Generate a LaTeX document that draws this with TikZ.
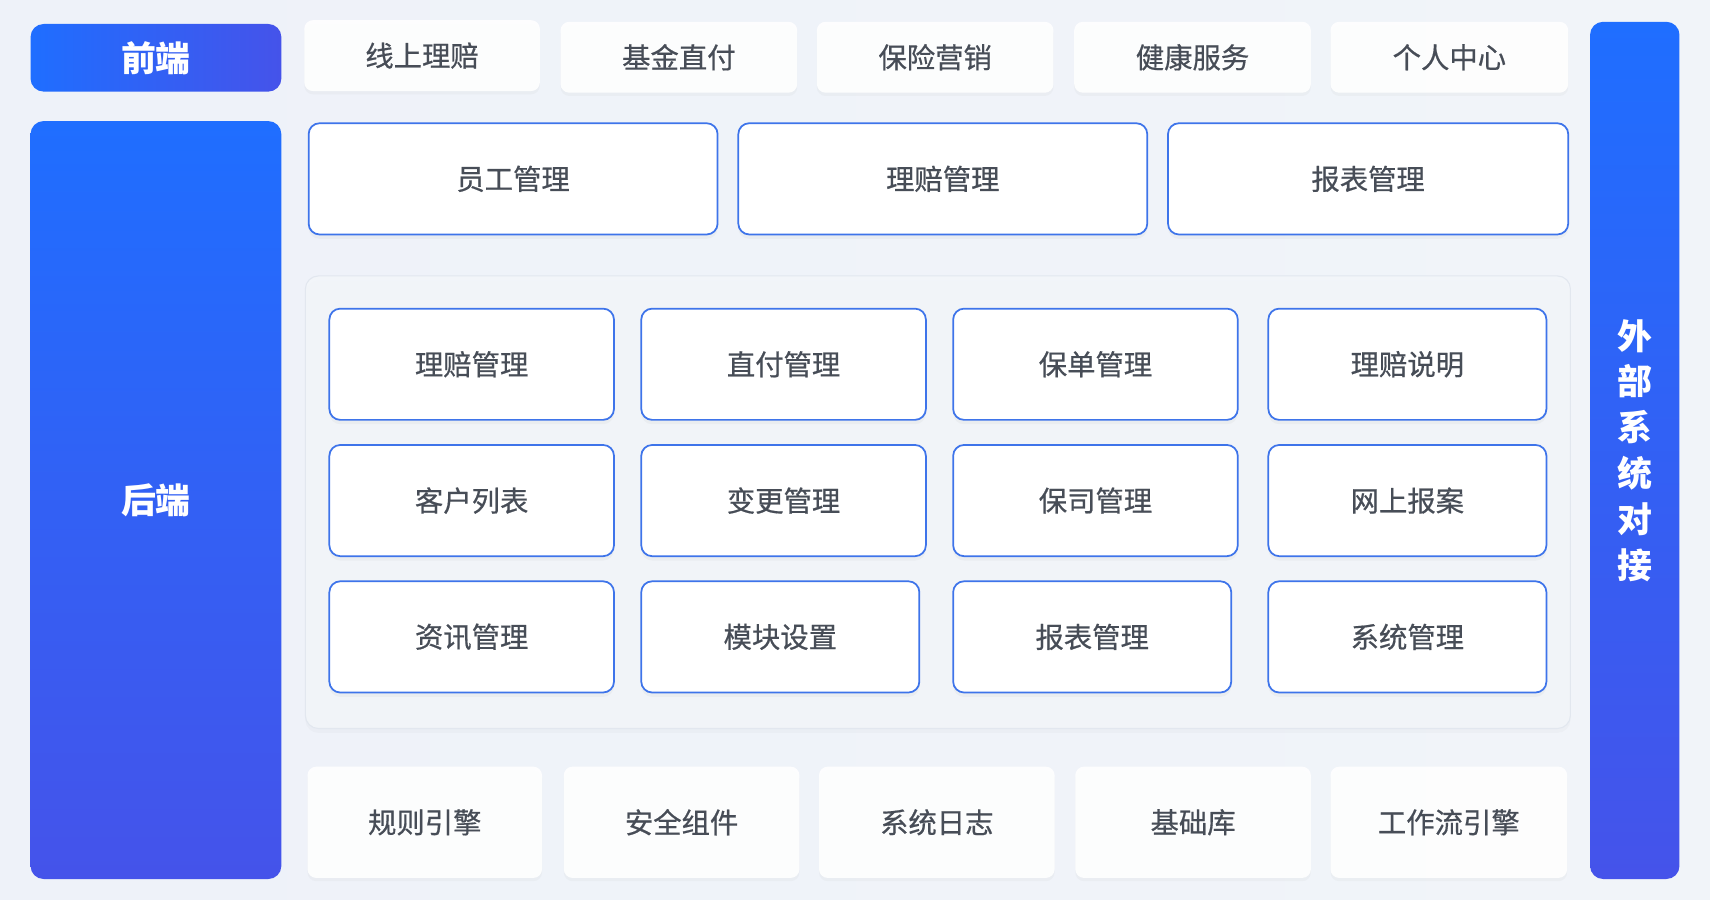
\documentclass[tikz,border=0pt]{standalone}
\usepackage{fontspec}
\setmainfont{Noto Sans CJK SC}
\newfontfamily\medfont{Noto Sans CJK SC}[FakeBold=0.6]
\usetikzlibrary{shadows}
\definecolor{bgL}{HTML}{EEF2F9}
\definecolor{bgR}{HTML}{F1F4F9}
\definecolor{blueA}{HTML}{1F6EFF}
\definecolor{blueB}{HTML}{4553EA}
\definecolor{edgeblue}{HTML}{3E74EA}
\definecolor{txt}{HTML}{474D57}
\definecolor{panelline}{HTML}{E2E7EF}
\definecolor{panelfill}{HTML}{F3F6FA}
\tikzset{
  txtfont/.style={font=\medfont\fontsize{26}{30}\selectfont, text=txt},
  topbox/.style={txtfont, rectangle, rounded corners=8pt, fill=white, fill opacity=0.9, text opacity=1, inner sep=0pt,
    drop shadow={opacity=0.05, shadow xshift=0pt, shadow yshift=-3pt}},
  rowbox/.style={txtfont, rectangle, rounded corners=10pt, draw=edgeblue, line width=1.6pt, fill=white, inner sep=0pt,
    drop shadow={opacity=0.06, shadow xshift=0pt, shadow yshift=-4pt}},
  bluebar/.style={rectangle, rounded corners=12pt, top color=blueA, bottom color=blueB, text=white,
    font=\fontsize{32}{42}\selectfont\bfseries, inner sep=0pt, align=center},
  blueleft/.style={rectangle, rounded corners=12pt, left color=blueA, right color=blueB, text=white,
    font=\fontsize{32}{42}\selectfont\bfseries, inner sep=0pt},
}
\begin{document}
\begin{tikzpicture}[x=1pt,y=-1pt]
\useasboundingbox (0,0) rectangle (1568,825);
\shade[left color=bgL, right color=bgR] (0,0) rectangle (1568,825);

% left / right bars
\node[blueleft, minimum width=230pt, minimum height=62pt] (fe) at (143,53) {前端};
\node[bluebar, minimum width=230pt, minimum height=695pt] (be) at (143,458.5) {后端};
\node[bluebar, minimum width=82pt, minimum height=786pt] (ext) at (1499,413) {外\\部\\系\\统\\对\\接};

% top row
\node[topbox, minimum width=216pt, minimum height=65pt] (t1) at (387,51) {线上理赔};
\node[topbox, minimum width=217pt, minimum height=65pt] (t2) at (622.5,52.5) {基金直付};
\node[topbox, minimum width=217pt, minimum height=65pt] (t3) at (857.5,52.5) {保险营销};
\node[topbox, minimum width=217pt, minimum height=65pt] (t4) at (1093.5,52.5) {健康服务};
\node[topbox, minimum width=218pt, minimum height=65pt] (t5) at (1329,52.5) {个人中心};

% second row
\node[rowbox, minimum width=375pt, minimum height=102pt] (r1) at (470.5,164) {员工管理};
\node[rowbox, minimum width=375pt, minimum height=102pt] (r2) at (864.5,164) {理赔管理};
\node[rowbox, minimum width=367pt, minimum height=102pt] (r3) at (1254.5,164) {报表管理};

% panel
\node[rectangle, rounded corners=12pt, draw=panelline, line width=1pt, fill=panelfill, fill opacity=0.8,
  minimum width=1160pt, minimum height=415pt, drop shadow={opacity=0.04, shadow xshift=0pt, shadow yshift=-4pt}] (panel) at (860,460.5) {};

% grid
\node[rowbox, minimum width=261pt, minimum height=102pt] (g11) at (432.5,334) {理赔管理};
\node[rowbox, minimum width=261pt, minimum height=102pt] (g12) at (718.5,334) {直付管理};
\node[rowbox, minimum width=261pt, minimum height=102pt] (g13) at (1004.5,334) {保单管理};
\node[rowbox, minimum width=255pt, minimum height=102pt] (g14) at (1290.5,334) {理赔说明};
\node[rowbox, minimum width=261pt, minimum height=102pt] (g21) at (432.5,459) {客户列表};
\node[rowbox, minimum width=261pt, minimum height=102pt] (g22) at (718.5,459) {变更管理};
\node[rowbox, minimum width=261pt, minimum height=102pt] (g23) at (1004.5,459) {保司管理};
\node[rowbox, minimum width=255pt, minimum height=102pt] (g24) at (1290.5,459) {网上报案};
\node[rowbox, minimum width=261pt, minimum height=102pt] (g31) at (432.5,584) {资讯管理};
\node[rowbox, minimum width=255pt, minimum height=102pt] (g32) at (715.5,584) {模块设置};
\node[rowbox, minimum width=255pt, minimum height=102pt] (g33) at (1001.5,584) {报表管理};
\node[rowbox, minimum width=255pt, minimum height=102pt] (g34) at (1290.5,584) {系统管理};

% bottom row
\node[topbox, minimum width=215pt, minimum height=102pt] (b1) at (389.5,754) {规则引擎};
\node[topbox, minimum width=216pt, minimum height=102pt] (b2) at (625,754) {安全组件};
\node[topbox, minimum width=216pt, minimum height=102pt] (b3) at (859,754) {系统日志};
\node[topbox, minimum width=216pt, minimum height=102pt] (b4) at (1094,754) {基础库};
\node[topbox, minimum width=217pt, minimum height=102pt] (b5) at (1328.5,754) {工作流引擎};
\end{tikzpicture}
\end{document}
